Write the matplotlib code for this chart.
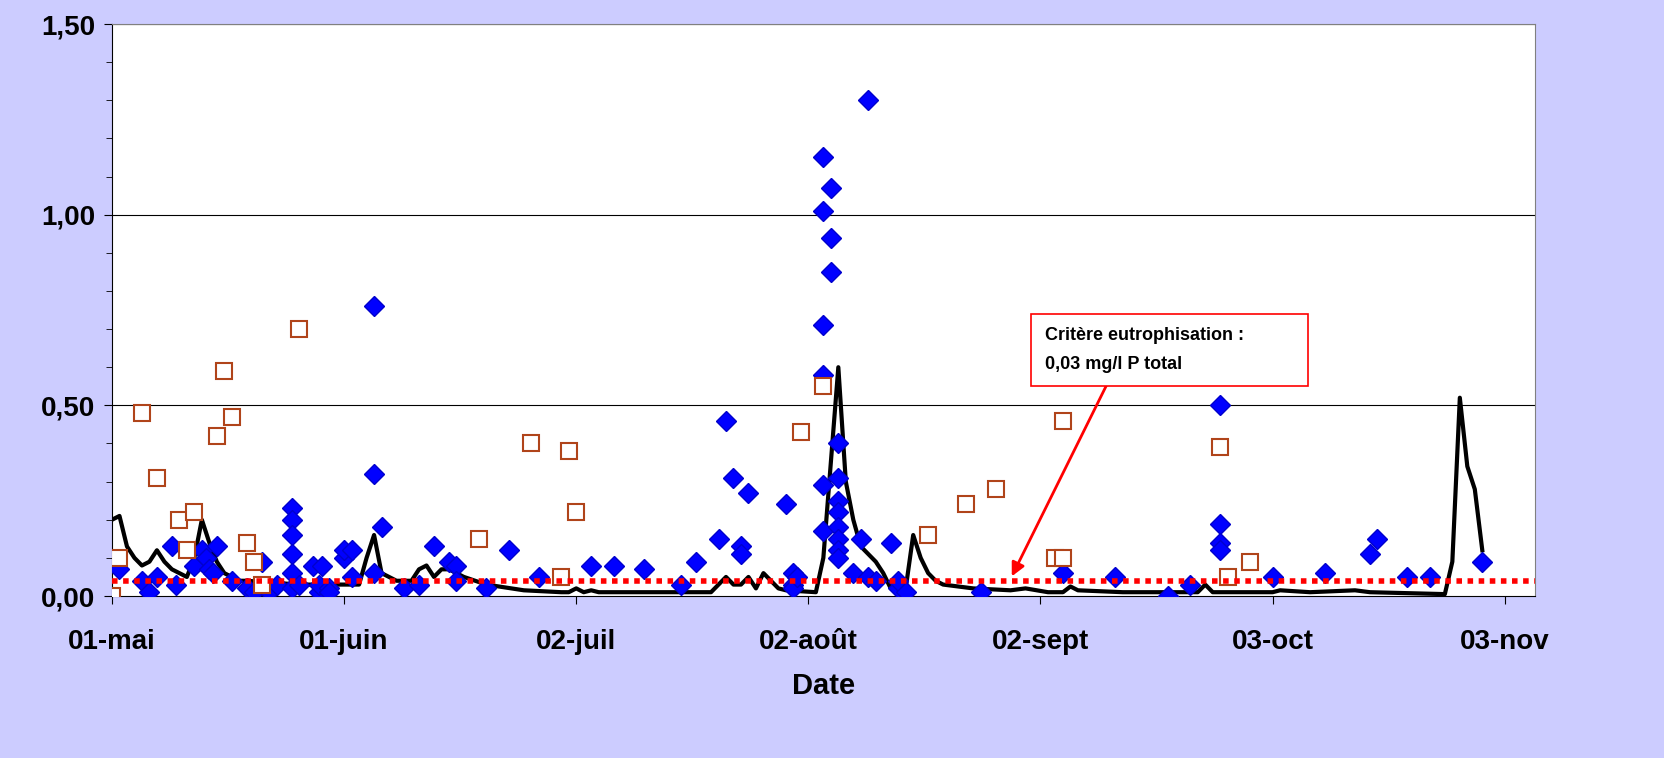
import matplotlib.pyplot as plt
import numpy as np

plt.rcParams['font.family'] = ['Liberation Sans', 'DejaVu Sans']

# Days counted from 01-mai
blue_days = [1, 4, 5, 6, 8, 8.5, 11, 12, 12.5, 13, 13.5, 14, 16, 18, 19, 20, 21, 22,
             24, 24, 24, 24, 24, 24, 25, 26.8, 27.7, 27.7, 28, 29, 29, 31, 31, 32, 32,
             35, 35, 35, 36, 39, 41, 43, 45, 46, 46, 50, 53, 57, 64, 67, 71, 76, 78,
             81, 82, 83, 84, 84, 85, 90, 91, 91, 91, 91.5,
             95, 95, 95, 95, 95, 95, 96, 96, 96,
             97, 97, 97, 97, 97, 97, 97, 97, 99, 100, 101, 101, 102, 104, 105, 105, 106,
             116, 127, 134, 141, 144, 148, 148, 148, 148, 155, 162, 168, 169, 173, 176, 183]
blue_vals = [0.07, 0.04, 0.01, 0.05, 0.13, 0.03, 0.08, 0.12, 0.10, 0.07, 0.06, 0.13, 0.04, 0.02, 0.01, 0.09, 0.01, 0.03,
             0.23, 0.20, 0.16, 0.11, 0.06, 0.02, 0.03, 0.08, 0.01, 0.03, 0.08, 0.02, 0.01, 0.10, 0.12, 0.12, 0.05,
             0.76, 0.32, 0.06, 0.18, 0.02, 0.03, 0.13, 0.09, 0.08, 0.04, 0.02, 0.12, 0.05, 0.08, 0.08, 0.07, 0.03, 0.09,
             0.15, 0.46, 0.31, 0.13, 0.11, 0.27, 0.24, 0.06, 0.03, 0.02, 0.05,
             1.15, 1.01, 0.71, 0.58, 0.29, 0.17, 1.07, 0.94, 0.85,
             0.40, 0.31, 0.25, 0.22, 0.18, 0.15, 0.12, 0.10, 0.06, 0.15, 1.30, 0.05, 0.04, 0.14, 0.02, 0.04, 0.01,
             0.01, 0.06, 0.05, 0.00, 0.03, 0.50, 0.19, 0.14, 0.12, 0.05, 0.06, 0.11, 0.15, 0.05, 0.05, 0.09]

brown_days = [0, 1, 4, 6, 9, 10, 11, 14, 15, 16, 18, 19, 20, 25, 49, 56, 60, 61, 62,
              92, 95, 109, 114, 118, 127, 126, 127, 148, 149, 152]
brown_vals = [0.00, 0.10, 0.48, 0.31, 0.20, 0.12, 0.22, 0.42, 0.59, 0.47, 0.14, 0.09, 0.03, 0.70, 0.15, 0.40, 0.05, 0.38, 0.22,
              0.43, 0.55, 0.16, 0.24, 0.28, 0.46, 0.10, 0.10, 0.39, 0.05, 0.09]

line_days = [0, 1, 2, 3, 4, 5, 6, 7, 8, 9, 10, 11, 12, 13, 14, 15, 16, 17, 18, 25, 33, 34, 35, 36, 37, 38,
             40, 41, 42, 43, 44, 45, 47, 50, 55, 60, 61, 62, 63, 64, 65, 80, 81, 82, 83, 84, 85, 86, 87, 88, 89,
             90, 94, 95, 96, 97, 98, 99, 100, 101, 102, 103, 104, 105, 106, 107, 108, 109, 110, 111, 115, 120,
             122, 125, 127, 128, 129, 135, 145, 146, 147, 155, 156, 160, 166, 168, 178, 179, 180, 181, 182, 183]
line_vals = [0.20, 0.21, 0.13, 0.10, 0.08, 0.09, 0.12, 0.09, 0.07, 0.06, 0.05, 0.10, 0.20, 0.14, 0.09, 0.06, 0.05, 0.04, 0.04, 0.03, 0.03, 0.10, 0.16, 0.06, 0.05, 0.04,
             0.04, 0.07, 0.08, 0.05, 0.07, 0.07, 0.05, 0.03, 0.015, 0.01, 0.01, 0.02, 0.01, 0.015, 0.01, 0.01, 0.03, 0.05, 0.03, 0.03, 0.05, 0.02, 0.06, 0.04, 0.02,
             0.015, 0.01, 0.10, 0.35, 0.60, 0.30, 0.20, 0.13, 0.11, 0.09, 0.06, 0.02, 0.01, 0.02, 0.16, 0.10, 0.06, 0.04, 0.03, 0.02, 0.015,
             0.02, 0.01, 0.01, 0.025, 0.015, 0.01, 0.01, 0.03, 0.01, 0.01, 0.015, 0.01, 0.015, 0.01, 0.005, 0.09, 0.52, 0.34, 0.28, 0.12]

tick_days = [0, 31, 62, 93, 124, 155, 186]
tick_labels = ['01-mai', '01-juin', '02-juil', '02-août', '02-sept', '03-oct', '03-nov']
critere = 0.04

fig = plt.figure(figsize=(16.64, 7.58), dpi=100, facecolor='#CCCCFF')
ax = fig.add_axes([0.0673, 0.2137, 0.855, 0.7546])
ax.set_facecolor('white')

for y in [0.5, 1.0, 1.5]:
    ax.axhline(y, color='black', lw=0.8, zorder=0)

ax.plot(line_days, line_vals, color='black', lw=3, zorder=2)
ax.plot(blue_days, blue_vals, 'D', color='#0000FF', ms=10, mec='#0000CC', zorder=3)
ax.plot(brown_days, brown_vals, 's', mfc='white', mec='#B0441A', mew=1.5, ms=11, zorder=4)
ax.axhline(critere, color='#FF0000', lw=4, ls=(0, (1, 1)), zorder=5)

ax.set_xlim(0, 190)
ax.set_ylim(0, 1.5)
ax.set_xticks(tick_days)
ax.set_xticklabels(tick_labels, fontsize=20, fontweight='bold')
ax.set_yticks([0, 0.5, 1.0, 1.5])
ax.set_yticklabels(['0,00', '0,50', '1,00', '1,50'], fontsize=20, fontweight='bold')
ax.set_yticks(np.arange(0, 1.51, 0.1), minor=True)
ax.tick_params(axis='x', length=6, pad=18)
ax.tick_params(axis='y', which='major', length=6, pad=6)
ax.tick_params(axis='y', which='minor', length=4)
ax.set_xlabel('Date', fontsize=21, fontweight='bold', labelpad=12)
for s in ['top', 'right']:
    ax.spines[s].set_color('#808080')

ax.annotate('', xy=(120, 0.045), xytext=(133, 0.56),
            arrowprops=dict(arrowstyle='-|>', color='#FF0000', lw=2, mutation_scale=20), zorder=6)
ax.text(124.6, 0.705, 'Critère eutrophisation :          \n0,03 mg/l P total', fontsize=13, fontweight='bold',
        va='top', ha='left', linespacing=1.9,
        bbox=dict(boxstyle='square,pad=0.75', fc='white', ec='#FF0000', lw=1.2), zorder=7)

fig.savefig('out.png', dpi=100, facecolor=fig.get_facecolor())
